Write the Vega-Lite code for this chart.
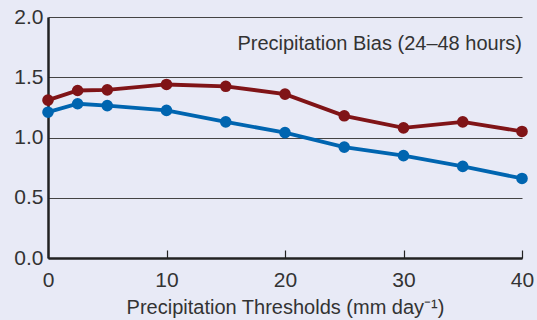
{
  "$schema": "https://vega.github.io/schema/vega-lite/v6.json",
  "width": 474,
  "height": 241,
  "autosize": {"type": "none"},
  "padding": {"left": 48, "top": 17, "right": 15, "bottom": 62},
  "background": "#e8eaf6",
  "config": {
    "view": {"stroke": null},
    "font": "Liberation Sans"
  },
  "datasets": {
    "bias": [
      {"threshold": 0, "bias": 1.31, "series": "A"},
      {"threshold": 2.5, "bias": 1.39, "series": "A"},
      {"threshold": 5, "bias": 1.395, "series": "A"},
      {"threshold": 10, "bias": 1.44, "series": "A"},
      {"threshold": 15, "bias": 1.425, "series": "A"},
      {"threshold": 20, "bias": 1.36, "series": "A"},
      {"threshold": 25, "bias": 1.18, "series": "A"},
      {"threshold": 30, "bias": 1.08, "series": "A"},
      {"threshold": 35, "bias": 1.13, "series": "A"},
      {"threshold": 40, "bias": 1.05, "series": "A"},
      {"threshold": 0, "bias": 1.21, "series": "B"},
      {"threshold": 2.5, "bias": 1.28, "series": "B"},
      {"threshold": 5, "bias": 1.265, "series": "B"},
      {"threshold": 10, "bias": 1.225, "series": "B"},
      {"threshold": 15, "bias": 1.13, "series": "B"},
      {"threshold": 20, "bias": 1.04, "series": "B"},
      {"threshold": 25, "bias": 0.92, "series": "B"},
      {"threshold": 30, "bias": 0.85, "series": "B"},
      {"threshold": 35, "bias": 0.76, "series": "B"},
      {"threshold": 40, "bias": 0.66, "series": "B"}
    ],
    "label": [
      {"threshold": 40, "bias": 1.777, "text": "Precipitation Bias (24–48 hours)"}
    ]
  },
  "layer": [
    {
      "data": {"name": "bias"},
      "mark": {"type": "line", "strokeWidth": 3.8},
      "encoding": {
        "x": {
          "field": "threshold", "type": "quantitative",
          "scale": {"domain": [0, 40], "nice": false},
          "axis": {
            "values": [0, 10, 20, 30, 40],
            "title": "Precipitation Thresholds (mm day⁻¹)",
            "titleFont": "Liberation Sans",
            "titleFontSize": 20,
            "titleFontWeight": "normal",
            "titleColor": "#333333",
            "titlePadding": 7,
            "labelFontSize": 21,
            "labelColor": "#333333",
            "labelPadding": 19,
            "labelFlush": false,
            "tickSize": -8,
            "tickColor": "#222222",
            "tickWidth": 1.2,
            "domainColor": "#222222",
            "domainWidth": 2.5,
            "grid": false
          }
        },
        "y": {
          "field": "bias", "type": "quantitative",
          "scale": {"domain": [0, 2], "nice": false},
          "axis": {
            "values": [0, 0.5, 1, 1.5, 2],
            "format": ".1f",
            "title": null,
            "labelFontSize": 21,
            "labelColor": "#333333",
            "labelPadding": 5,
            "ticks": false,
            "domainColor": "#222222",
            "domainWidth": 2.5,
            "grid": true,
            "gridColor": "#444444",
            "gridWidth": 1
          }
        },
        "color": {
          "field": "series", "type": "nominal",
          "scale": {"domain": ["A", "B"], "range": ["#801417", "#0065b0"]},
          "legend": null
        }
      }
    },
    {
      "data": {"name": "bias"},
      "mark": {"type": "point", "filled": true, "size": 135, "opacity": 1},
      "encoding": {
        "x": {"field": "threshold", "type": "quantitative"},
        "y": {"field": "bias", "type": "quantitative"},
        "color": {"field": "series", "type": "nominal", "legend": null}
      }
    },
    {
      "data": {"name": "label"},
      "mark": {"type": "text", "align": "right", "baseline": "middle", "fontSize": 20, "color": "#333333", "font": "Liberation Sans"},
      "encoding": {
        "x": {"field": "threshold", "type": "quantitative"},
        "y": {"field": "bias", "type": "quantitative"},
        "text": {"field": "text"}
      }
    }
  ]
}
